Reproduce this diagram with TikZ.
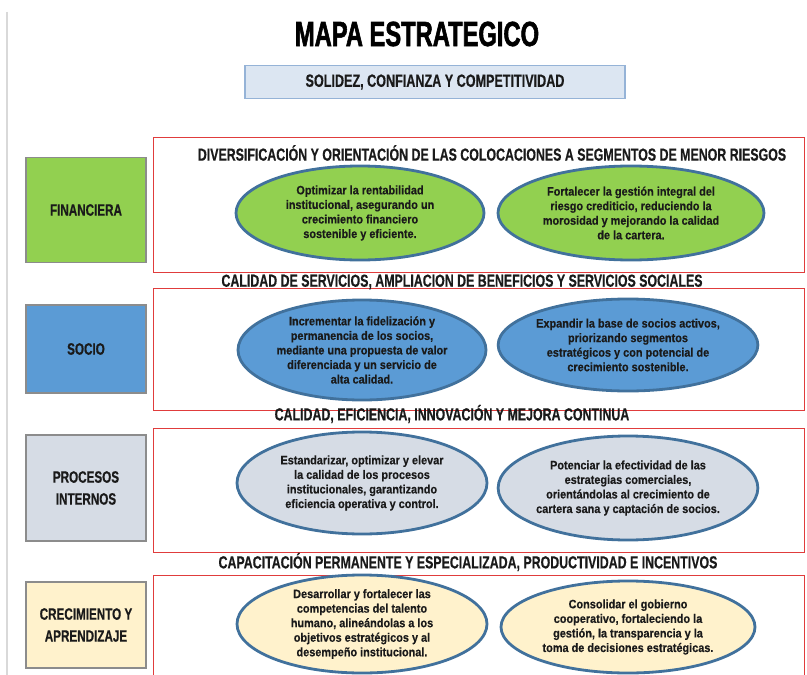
\documentclass[tikz,border=0pt]{standalone}
\usepackage{fontspec}
\setmainfont{Liberation Sans}
\newfontfamily\titlefont{Liberation Sans}[FakeStretch=0.68,FakeBold=1.6]
\newfontfamily\headfont{Liberation Sans}[FakeStretch=0.71,FakeBold=0.5]
\newfontfamily\ovalfont{Liberation Sans}[FakeStretch=0.89,FakeBold=0.4]
\usetikzlibrary{shapes.geometric}

\definecolor{fingreen}{HTML}{92D050}
\definecolor{socblue}{HTML}{5B9BD5}
\definecolor{procgray}{HTML}{D6DCE5}
\definecolor{creccream}{HTML}{FFF2CC}
\definecolor{ovalline}{HTML}{41719C}
\definecolor{framered}{HTML}{E03C3C}
\definecolor{visionfill}{HTML}{DCE6F2}
\definecolor{visionline}{HTML}{95B3D7}
\definecolor{boxline}{HTML}{8C8C8C}
\definecolor{ink}{HTML}{1A1A1A}

\begin{document}
\begin{tikzpicture}[x=1bp,y=-1bp,
    heading/.style={font=\headfont\bfseries\fontsize{17.5}{19}\selectfont,text=ink,inner sep=0},
    frame/.style={draw=framered,line width=1.4bp,anchor=north west,inner sep=0},
    persp/.style={draw=boxline,line width=1.2bp,minimum width=120bp,align=center,
        font=\headfont\bfseries\fontsize{16.5}{22}\selectfont,text=ink},
    oval/.style={ellipse,draw=ovalline,line width=2.8bp,inner xsep=0,inner ysep=-5bp,
        align=center,font=\ovalfont\bfseries\fontsize{12.3}{14.6}\selectfont,text=ink}]

    \useasboundingbox (0,0) rectangle (807,675);
    \draw [black!15,line width=1.2bp] (7,12) -- (7,675);

    \node [font=\titlefont\bfseries\fontsize{35}{40}\selectfont,inner sep=0] (title)
        at (417,34) {MAPA ESTRATEGICO};
    \node [draw=visionline,fill=visionfill,line width=1.4bp,minimum width=380bp,
        minimum height=33bp,font=\headfont\bfseries\fontsize{17.8}{20}\selectfont,text=ink] (vision)
        at (435,82) {SOLIDEZ, CONFIANZA Y COMPETITIVIDAD};

    % financiera
    \node [frame,minimum width=651bp,minimum height=135bp] (finframe) at (153,137) {};
    \node [heading] (finhead) at (492,153)
        {DIVERSIFICACIÓN Y ORIENTACIÓN DE LAS COLOCACIONES A SEGMENTOS DE MENOR RIESGOS};
    \node [persp,fill=fingreen,minimum height=105bp] (fin) at (86,210) {FINANCIERA};
    \node [oval,fill=fingreen,minimum width=248bp,minimum height=94bp] (fin1) at (360,213)
        {Optimizar la rentabilidad\\institucional, asegurando un\\crecimiento financiero\\sostenible y eficiente.};
    \node [oval,fill=fingreen,minimum width=266bp,minimum height=94bp] (fin2) at (631,213)
        {Fortalecer la gestión integral del\\riesgo crediticio, reduciendo la\\morosidad y mejorando la calidad\\de la cartera.};

    % socio
    \node [frame,minimum width=651bp,minimum height=122bp] (socframe) at (153,288) {};
    \node [heading] (sochead) at (462,282)
        {CALIDAD DE SERVICIOS, AMPLIACION DE BENEFICIOS Y SERVICIOS SOCIALES};
    \node [persp,fill=socblue,minimum height=88bp] (soc) at (86,349) {SOCIO};
    \node [oval,fill=socblue,minimum width=248bp,minimum height=100bp] (soc1) at (362,350)
        {Incrementar la fidelización y\\permanencia de los socios,\\mediante una propuesta de valor\\diferenciada y un servicio de\\alta calidad.};
    \node [oval,fill=socblue,minimum width=256bp,minimum height=92bp] (soc2) at (628,345)
        {Expandir la base de socios activos,\\priorizando segmentos\\estratégicos y con potencial de\\crecimiento sostenible.};

    % procesos internos
    \node [frame,minimum width=651bp,minimum height=124bp] (proframe) at (153,428) {};
    \node [heading] (prohead) at (452,414)
        {CALIDAD, EFICIENCIA, INNOVACIÓN Y MEJORA CONTINUA};
    \node [persp,fill=procgray,minimum height=106bp] (pro) at (86,488) {PROCESOS\\INTERNOS};
    \node [oval,fill=procgray,minimum width=250bp,minimum height=102bp] (pro1) at (362,483)
        {Estandarizar, optimizar y elevar\\la calidad de los procesos\\institucionales, garantizando\\eficiencia operativa y control.};
    \node [oval,fill=procgray,minimum width=256bp,minimum height=104bp] (pro2) at (628,488)
        {Potenciar la efectividad de las\\estrategias comerciales,\\orientándolas al crecimiento de\\cartera sana y captación de socios.};

    % crecimiento y aprendizaje
    \node [frame,minimum width=651bp,minimum height=110bp] (creframe) at (153,575) {};
    \node [heading] (crehead) at (468,562)
        {CAPACITACIÓN PERMANENTE Y ESPECIALIZADA, PRODUCTIVIDAD E INCENTIVOS};
    \node [persp,fill=creccream,minimum height=86bp] (cre) at (86,625) {CRECIMIENTO Y\\APRENDIZAJE};
    \node [oval,fill=creccream,minimum width=250bp,minimum height=98bp] (cre1) at (362,624)
        {Desarrollar y fortalecer las\\competencias del talento\\humano, alineándolas a los\\objetivos estratégicos y al\\desempeño institucional.};
    \node [oval,fill=creccream,minimum width=254bp,minimum height=92bp] (cre2) at (628,627)
        {Consolidar el gobierno\\cooperativo, fortaleciendo la\\gestión, la transparencia y la\\toma de decisiones estratégicas.};
\end{tikzpicture}
\end{document}
